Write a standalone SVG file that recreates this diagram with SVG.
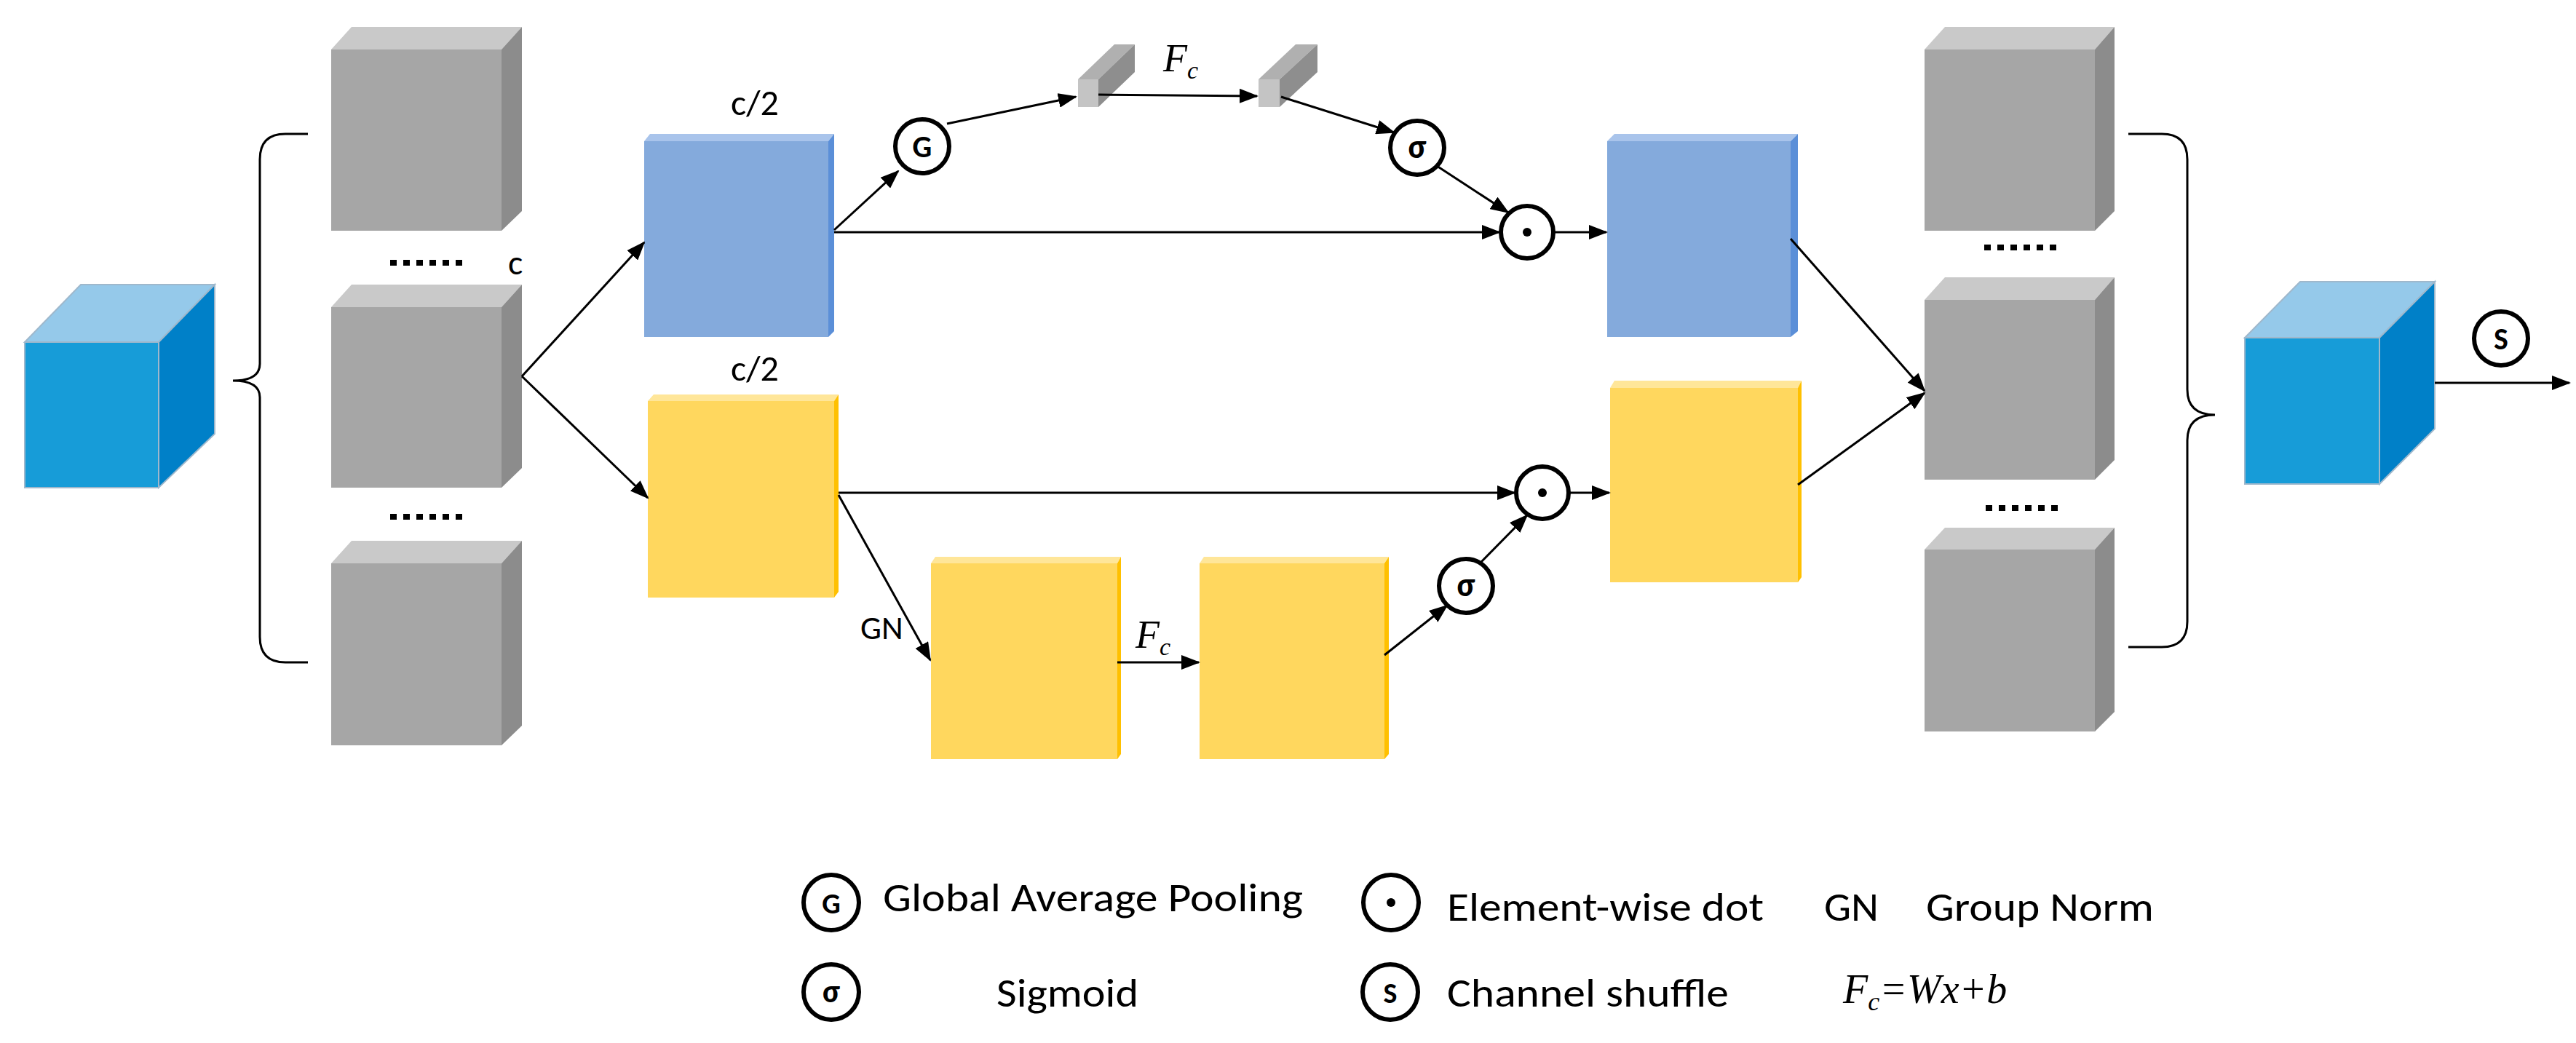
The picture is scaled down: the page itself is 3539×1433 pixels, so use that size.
<svg xmlns="http://www.w3.org/2000/svg" width="3539" height="1433" viewBox="0 0 3539 1433">
<defs>
<marker id="ah" markerUnits="userSpaceOnUse" markerWidth="26" markerHeight="20" refX="24" refY="10" orient="auto"><path d="M0,0 L26,10 L0,20 Z" fill="#000"/></marker>
</defs>
<style>
.gf{fill:#A6A6A6}.gt{fill:#C9C9C9}.gs{fill:#8C8C8C}
.bf{fill:#84AADC}.bs{fill:#5B8FD8}.bt{fill:#A9C4EB}
.yf{fill:#FFD75E}.ys{fill:#FFC000}.yt{fill:#FFE699}
.cf{fill:#179CD8;stroke:#9FB8CC;stroke-width:2}.ct{fill:#95C9EA;stroke:#9FB8CC;stroke-width:2}.cs{fill:#0080C8;stroke:#9FB8CC;stroke-width:2}
.ln{stroke:#000;stroke-width:3;fill:none}
.br{stroke:#000;stroke-width:3;fill:none}
.op{fill:#fff;stroke:#000;stroke-width:6}
.t{font-family:Carlito,"Liberation Sans",Arial,sans-serif;fill:#000}
.b{font-weight:bold}
.m{font-family:"Liberation Serif","Times New Roman",serif;font-style:italic;fill:#000}
.dots{stroke:#000;stroke-width:8;stroke-dasharray:9 9}
</style>

<g id="input-cube">
<polygon class="ct" points="34,470 111,391 295,391 218,470"/>
<polygon class="cs" points="218,470 295,391 295,596 218,670"/>
<rect class="cf" x="34" y="470" width="184" height="200"/>
</g>

<g id="brace-left"><path class="br" d="M423,184 H392 Q357,184 357,219 V500 Q357,523 320,523 Q357,523 357,546 V875 Q357,910 392,910 H423"/></g>

<g id="gray-1">
<polygon class="gt" points="455,68 483,37 717,37 689,68"/><polygon class="gs" points="689,68 717,37 717,290 689,317"/><rect class="gf" x="455" y="68" width="234" height="249"/>
</g>
<g id="gray-2">
<polygon class="gt" points="455,422 483,391 717,391 689,422"/><polygon class="gs" points="689,422 717,391 717,643 689,670"/><rect class="gf" x="455" y="422" width="234" height="248"/>
</g>
<g id="gray-3">
<polygon class="gt" points="455,774 483,743 717,743 689,774"/><polygon class="gs" points="689,774 717,743 717,997 689,1024"/><rect class="gf" x="455" y="774" width="234" height="250"/>
</g>
<g id="dots-left">
<line class="dots" x1="536" y1="361" x2="635" y2="361"/><line class="dots" x1="536" y1="710" x2="635" y2="710"/>
<text class="t" x="698" y="377" font-size="48">c</text>
</g>

<g id="blue-1">
<polygon class="bt" points="885,194 893,184 1146,184 1138,194"/><polygon class="bs" points="1138,194 1146,184 1146,455 1138,463"/><rect class="bf" x="885" y="194" width="253" height="269"/>
<text class="t" x="1037" y="158" font-size="50" text-anchor="middle">c/2</text>
</g>
<g id="yellow-1">
<polygon class="yt" points="890,551 898,542 1152,542 1146,551"/><polygon class="ys" points="1146,551 1152,542 1152,813 1146,821"/><rect class="yf" x="890" y="551" width="256" height="270"/>
<text class="t" x="1037" y="523" font-size="50" text-anchor="middle">c/2</text>
</g>

<g id="bar-1"><polygon fill="#B0B0B0" points="1481,109 1531,61 1559,61 1509,109"/><polygon fill="#8E8E8E" points="1509,109 1559,61 1559,99 1509,147"/><rect fill="#C4C4C4" x="1481" y="109" width="28" height="38"/></g>
<g id="bar-2"><polygon fill="#B0B0B0" points="1729,109 1780,61 1810,61 1758,109"/><polygon fill="#8E8E8E" points="1758,109 1810,61 1810,99 1758,147"/><rect fill="#C4C4C4" x="1729" y="109" width="29" height="38"/></g>
<text class="m" x="1598" y="98" font-size="54">F<tspan font-size="34" dy="10">c</tspan></text>

<g id="op-G"><circle class="op" cx="1267" cy="201" r="37"/><text class="t b" x="1267" y="216" font-size="42" text-anchor="middle">G</text></g>
<g id="op-sigma-1"><circle class="op" cx="1947" cy="203" r="37"/><text class="t b" x="1947" y="217" font-size="46" text-anchor="middle">σ</text></g>
<g id="op-dot-1"><circle class="op" cx="2098" cy="319" r="36"/><circle cx="2098" cy="319" r="6"/></g>
<g id="blue-2">
<polygon class="bt" points="2208,194 2218,184 2470,184 2460,194"/><polygon class="bs" points="2460,194 2470,184 2470,455 2460,463"/><rect class="bf" x="2208" y="194" width="252" height="269"/>
</g>

<g id="yellow-3">
<polygon class="yt" points="1279,774 1285,765 1540,765 1535,774"/><polygon class="ys" points="1535,774 1540,765 1540,1036 1535,1043"/><rect class="yf" x="1279" y="774" width="256" height="269"/>
</g>
<g id="yellow-4">
<polygon class="yt" points="1648,774 1654,765 1908,765 1902,774"/><polygon class="ys" points="1902,774 1908,765 1908,1036 1902,1043"/><rect class="yf" x="1648" y="774" width="254" height="269"/>
</g>
<text class="t" x="1182" y="878" font-size="46">GN</text>
<text class="m" x="1560" y="890" font-size="54">F<tspan font-size="34" dy="10">c</tspan></text>
<g id="op-sigma-2"><circle class="op" cx="2014" cy="805" r="37"/><text class="t b" x="2014" y="819" font-size="46" text-anchor="middle">σ</text></g>
<g id="op-dot-2"><circle class="op" cx="2119" cy="677" r="36"/><circle cx="2119" cy="677" r="6"/></g>
<g id="yellow-2">
<polygon class="yt" points="2212,533 2218,523 2475,523 2470,533"/><polygon class="ys" points="2470,533 2475,523 2475,793 2470,800"/><rect class="yf" x="2212" y="533" width="258" height="267"/>
</g>

<g id="gray-4">
<polygon class="gt" points="2644,68 2672,37 2905,37 2878,68"/><polygon class="gs" points="2878,68 2905,37 2905,290 2878,317"/><rect class="gf" x="2644" y="68" width="234" height="249"/>
</g>
<g id="gray-5">
<polygon class="gt" points="2644,412 2672,381 2905,381 2878,412"/><polygon class="gs" points="2878,412 2905,381 2905,632 2878,659"/><rect class="gf" x="2644" y="412" width="234" height="247"/>
</g>
<g id="gray-6">
<polygon class="gt" points="2644,755 2672,725 2905,725 2878,755"/><polygon class="gs" points="2878,755 2905,725 2905,978 2878,1005"/><rect class="gf" x="2644" y="755" width="234" height="250"/>
</g>
<g id="dots-right">
<line class="dots" x1="2726" y1="340" x2="2825" y2="340"/><line class="dots" x1="2728" y1="698" x2="2827" y2="698"/>
</g>
<g id="brace-right"><path class="br" d="M2924,184 H2970 Q3005,184 3005,219 V535 Q3005,570 3043,570 Q3005,570 3005,605 V854 Q3005,889 2970,889 H2924"/></g>

<g id="output-cube">
<polygon class="ct" points="3084,464 3160,387 3345,387 3269,464"/>
<polygon class="cs" points="3269,464 3345,387 3345,589 3269,665"/>
<rect class="cf" x="3084" y="464" width="185" height="201"/>
</g>
<g id="op-S"><circle class="op" cx="3436" cy="465" r="37"/><text class="t b" x="3436" y="480" font-size="42" text-anchor="middle">S</text></g>

<g id="connectors">
<line class="ln" x1="717" y1="517" x2="885" y2="333" marker-end="url(#ah)"/>
<line class="ln" x1="717" y1="517" x2="890" y2="684" marker-end="url(#ah)"/>
<line class="ln" x1="1146" y1="316" x2="1234" y2="235" marker-end="url(#ah)"/>
<line class="ln" x1="1301" y1="170" x2="1478" y2="133" marker-end="url(#ah)"/>
<line class="ln" x1="1509" y1="130" x2="1727" y2="132" marker-end="url(#ah)"/>
<line class="ln" x1="1760" y1="133" x2="1915" y2="182" marker-end="url(#ah)"/>
<line class="ln" x1="1974" y1="228" x2="2072" y2="292" marker-end="url(#ah)"/>
<line class="ln" x1="1146" y1="319" x2="2060" y2="319" marker-end="url(#ah)"/>
<line class="ln" x1="2136" y1="319" x2="2207" y2="319" marker-end="url(#ah)"/>
<line class="ln" x1="1152" y1="677" x2="2081" y2="677" marker-end="url(#ah)"/>
<line class="ln" x1="2157" y1="677" x2="2211" y2="677" marker-end="url(#ah)"/>
<line class="ln" x1="1152" y1="680" x2="1278" y2="907" marker-end="url(#ah)"/>
<line class="ln" x1="1535" y1="910" x2="1647" y2="910" marker-end="url(#ah)"/>
<line class="ln" x1="1902" y1="900" x2="1988" y2="832" marker-end="url(#ah)"/>
<line class="ln" x1="2034" y1="773" x2="2098" y2="708" marker-end="url(#ah)"/>
<line class="ln" x1="2460" y1="328" x2="2644" y2="537" marker-end="url(#ah)"/>
<line class="ln" x1="2470" y1="666" x2="2644" y2="540" marker-end="url(#ah)"/>
<line class="ln" x1="3345" y1="526" x2="3530" y2="526" marker-end="url(#ah)"/>
</g>

<g id="legend">
<circle class="op" cx="1142" cy="1240" r="38"/><text class="t b" x="1142" y="1255" font-size="40" text-anchor="middle">G</text>
<text class="t" x="1213" y="1252" font-size="56" textLength="577" lengthAdjust="spacingAndGlyphs">Global Average Pooling</text>
<circle class="op" cx="1142" cy="1363" r="38"/><text class="t b" x="1142" y="1377" font-size="44" text-anchor="middle">σ</text>
<text class="t" x="1369" y="1383" font-size="56" textLength="195" lengthAdjust="spacingAndGlyphs">Sigmoid</text>
<circle class="op" cx="1911" cy="1240" r="38"/><circle cx="1911" cy="1240" r="6"/>
<text class="t" x="1988" y="1265" font-size="56" textLength="435" lengthAdjust="spacingAndGlyphs">Element-wise dot</text>
<text class="t" x="2506" y="1265" font-size="56" textLength="75" lengthAdjust="spacingAndGlyphs">GN</text>
<text class="t" x="2646" y="1265" font-size="56" textLength="313" lengthAdjust="spacingAndGlyphs">Group Norm</text>
<circle class="op" cx="1910" cy="1363" r="38"/><text class="t b" x="1910" y="1378" font-size="40" text-anchor="middle">S</text>
<text class="t" x="1988" y="1383" font-size="56" textLength="387" lengthAdjust="spacingAndGlyphs">Channel shuffle</text>
<text class="m" x="2532" y="1378" font-size="56">F<tspan font-size="36" dy="10">c</tspan><tspan dy="-10">=Wx+b</tspan></text>
</g>
</svg>
